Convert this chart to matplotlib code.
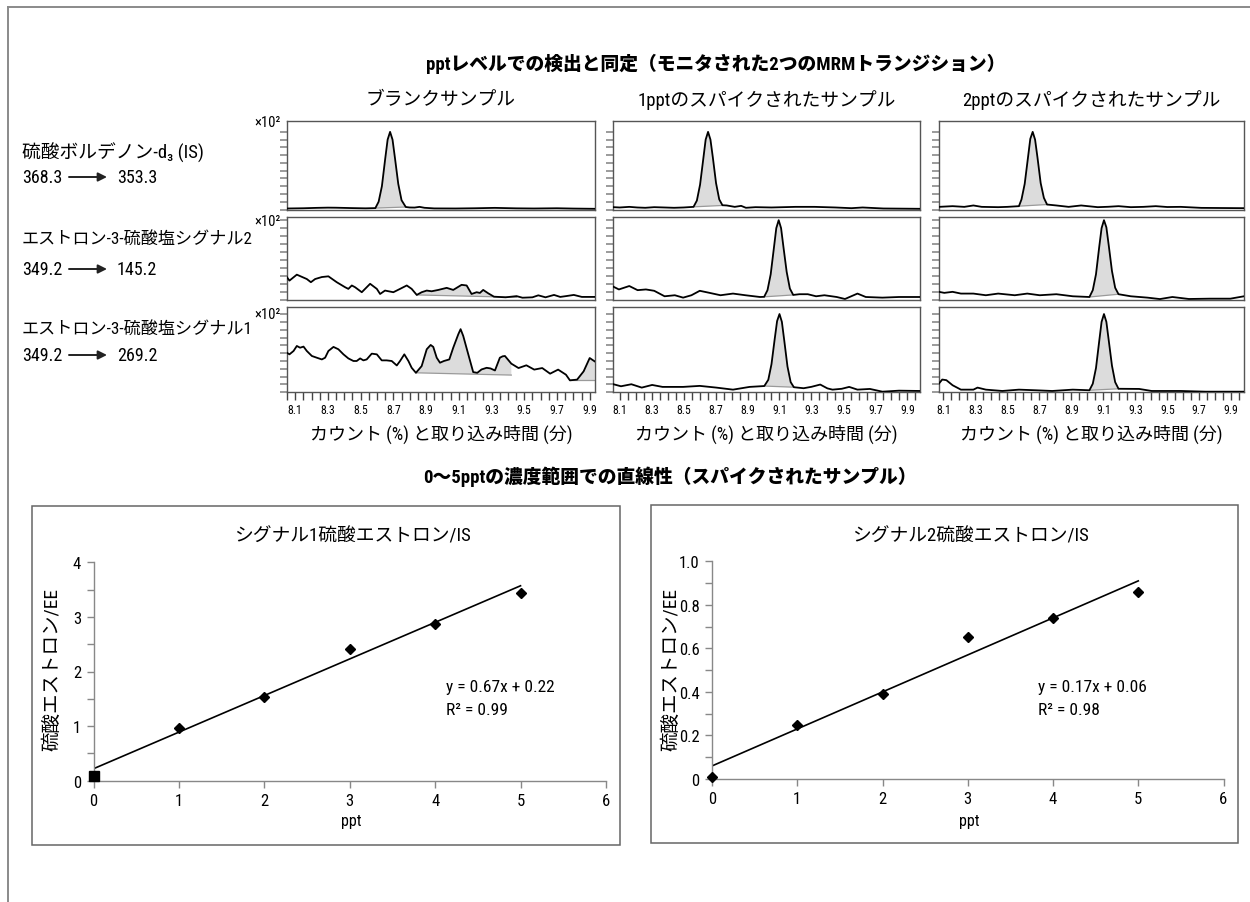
import matplotlib
matplotlib.use('Agg')
import matplotlib.pyplot as plt
from matplotlib import font_manager
from matplotlib.patches import Rectangle, Polygon
from matplotlib.ticker import FixedLocator, MultipleLocator
import numpy as np

W, H = 1250, 903

# pick a narrow latin face if there is one, CJK falls back to Noto
available = {f.name for f in font_manager.fontManager.ttflist}
NARROW = next((n for n in ['Liberation Sans Narrow', 'Roboto Condensed',
                           'Open Sans Condensed', 'Liberation Sans']
               if n in available), 'DejaVu Sans')
MIX = [NARROW, 'Noto Sans CJK JP', 'DejaVu Sans']
plt.rcParams['font.family'] = MIX

# ---------------- data ----------------
main_title = 'pptレベルでの検出と同定（モニタされた2つのMRMトランジション）'
col_titles = ['ブランクサンプル', '1pptのスパイクされたサンプル', '2pptのスパイクされたサンプル']
row_names = ['硫酸ボルデノン-d₃ (IS)', 'エストロン-3-硫酸塩シグナル2', 'エストロン-3-硫酸塩シグナル1']
row_transitions = [('368.3', '353.3'), ('349.2', '145.2'), ('349.2', '269.2')]
chrom_xlabel = 'カウント (%) と取り込み時間 (分)'
time_ticks = [8.1, 8.3, 8.5, 8.7, 8.9, 9.1, 9.3, 9.5, 9.7, 9.9]
time_ranges = [(8.05, 9.93), (8.06, 9.98), (8.07, 9.98)]

# chromatogram traces, (time, counts)
blank_is = [(8.05, 1.3), (8.15, 1.6), (8.23, 2.1), (8.30, 2.4), (8.35, 2.3), (8.45, 1.8),
            (8.53, 1.5), (8.59, 1.8), (8.61, 10), (8.63, 30), (8.65, 65), (8.665, 90),
            (8.68, 100), (8.695, 90), (8.71, 66), (8.73, 33), (8.75, 12), (8.776, 3.2),
            (8.80, 2.6), (8.83, 2.5), (8.86, 3.4), (8.89, 2.2), (8.95, 1.4), (9.08, 1.3),
            (9.20, 1.6), (9.32, 2.1), (9.45, 1.5), (9.56, 1.3), (9.70, 1.6), (9.80, 1.2),
            (9.93, 0.9)]
blank_s2 = [(8.049, 28.5), (8.065, 24), (8.110, 31.5), (8.171, 26), (8.196, 22), (8.222, 26),
            (8.263, 28.5), (8.303, 29.4), (8.354, 22), (8.405, 15.7), (8.425, 13.6),
            (8.446, 17.9), (8.466, 15.7), (8.507, 9.4), (8.558, 20), (8.599, 13.6),
            (8.619, 7.2), (8.649, 11.5), (8.700, 9.4), (8.741, 13.6), (8.782, 17.9),
            (8.812, 13.6), (8.843, 6), (8.873, 9.4), (8.904, 11.5), (8.934, 10.6),
            (8.975, 12.3), (9.026, 14.9), (9.066, 12.3), (9.117, 18.7), (9.148, 17.9),
            (9.178, 7.2), (9.209, 9.4), (9.229, 8.5), (9.249, 12.3), (9.280, 8),
            (9.315, 3.8), (9.386, 3), (9.453, 4.5), (9.489, 2.5), (9.55, 3), (9.586, 5.5),
            (9.63, 3), (9.682, 6), (9.72, 3.5), (9.755, 4.5), (9.803, 6), (9.852, 3.5),
            (9.93, 3.5)]
blank_s1 = [(8.049, 50.6), (8.065, 48.5), (8.090, 52.8), (8.110, 59.2), (8.130, 57),
            (8.151, 58.4), (8.171, 52.8), (8.202, 46.4), (8.232, 44.2), (8.263, 42),
            (8.283, 44.2), (8.303, 52.8), (8.334, 58), (8.364, 55), (8.395, 48.5),
            (8.425, 43.3), (8.456, 40), (8.476, 40), (8.497, 43.3), (8.517, 40.8),
            (8.537, 42), (8.568, 49.4), (8.599, 48.5), (8.629, 40.8), (8.659, 40.8),
            (8.690, 40), (8.721, 34.3), (8.741, 40), (8.767, 48.5), (8.792, 40),
            (8.812, 31.3), (8.838, 24.9), (8.873, 33.5), (8.904, 55), (8.928, 60.5),
            (8.944, 58), (8.965, 44.2), (8.985, 37.8), (9.009, 40), (9.042, 42),
            (9.066, 57), (9.097, 74.2), (9.111, 80.7), (9.127, 72.1), (9.158, 48.5),
            (9.188, 25.8), (9.213, 24.9), (9.239, 29.2), (9.270, 31.3), (9.294, 30.5),
            (9.321, 27.9), (9.351, 44.2), (9.368, 46), (9.382, 46.4), (9.421, 36.6),
            (9.465, 31), (9.513, 34.5), (9.561, 29), (9.610, 31), (9.658, 23.8),
            (9.707, 29), (9.755, 22.5), (9.779, 15.3), (9.823, 16.2), (9.863, 26.8),
            (9.900, 43.8), (9.93, 39.6)]
spike1_is = [(8.061, 3), (8.10, 2.6), (8.16, 3.4), (8.21, 2.6), (8.26, 2.2), (8.316, 3),
             (8.38, 2.6), (8.44, 2.2), (8.50, 2.6), (8.562, 3.4), (8.583, 11.5), (8.603, 32),
             (8.623, 65), (8.638, 90), (8.653, 100), (8.668, 90), (8.683, 67), (8.703, 34),
             (8.723, 13), (8.743, 5.5), (8.77, 5.2), (8.82, 3.4), (8.86, 4.7), (8.89, 2.2),
             (8.95, 3), (9.05, 2.6), (9.2, 3.4), (9.32, 3.4), (9.45, 2.6), (9.55, 1.7),
             (9.62, 2.6), (9.75, 1.3), (9.98, 0.9)]
spike1_s2 = [(8.061, 16.3), (8.095, 12.9), (8.160, 17.2), (8.212, 12), (8.264, 12.9),
             (8.316, 11.2), (8.381, 4.3), (8.445, 5.6), (8.497, 2.6), (8.549, 5.6),
             (8.601, 11.2), (8.653, 9), (8.731, 5.6), (8.809, 7.7), (8.887, 5.6),
             (8.978, 3.4), (9.004, 3.6), (9.025, 12), (9.045, 32), (9.065, 65), (9.080, 90),
             (9.095, 100), (9.110, 90), (9.125, 66), (9.145, 35), (9.165, 14), (9.186, 6),
             (9.225, 6.9), (9.277, 6.9), (9.329, 4.3), (9.381, 5.6), (9.458, 3.4),
             (9.510, 0.9), (9.588, 7.7), (9.640, 3.4), (9.744, 2.6), (9.848, 3.4),
             (9.98, 3.4)]
spike1_s1 = [(8.061, 10.3), (8.108, 7.7), (8.173, 10.3), (8.238, 6), (8.303, 9.4),
             (8.368, 6.9), (8.497, 6.9), (8.601, 8.2), (8.705, 6), (8.809, 3.4),
             (8.913, 6.9), (9.005, 8), (9.030, 16), (9.050, 36), (9.070, 68), (9.085, 91),
             (9.100, 100), (9.115, 90), (9.130, 66), (9.150, 33), (9.170, 13), (9.190, 6.5),
             (9.251, 5.2), (9.300, 7), (9.355, 9.9), (9.400, 5), (9.432, 3.4), (9.490, 4.5),
             (9.536, 6.9), (9.588, 3.4), (9.666, 4.3), (9.744, 0.8), (9.848, 2.1),
             (9.98, 1.7)]
spike2_is = [(8.071, 3.4), (8.157, 4.3), (8.230, 3.4), (8.287, 5.2), (8.339, 3.4),
             (8.442, 3), (8.50, 3.4), (8.572, 4.3), (8.588, 13), (8.608, 33), (8.628, 66),
             (8.643, 91), (8.658, 100), (8.673, 90), (8.688, 67), (8.708, 34), (8.728, 15),
             (8.748, 6.4), (8.806, 5.2), (8.883, 3.4), (8.961, 5.2), (9.065, 3),
             (9.13, 3.5), (9.195, 4.3), (9.272, 3), (9.35, 3.4), (9.428, 4.3), (9.50, 3.2),
             (9.584, 3.4), (9.713, 2.1), (9.98, 1.7)]
spike2_s2 = [(8.071, 9.9), (8.105, 8.6), (8.157, 9.9), (8.209, 7.7), (8.287, 7.7),
             (8.365, 5.6), (8.442, 7.7), (8.546, 5.6), (8.624, 7.7), (8.702, 5.6),
             (8.806, 6.9), (8.909, 4.3), (9.013, 3.4), (9.034, 12), (9.054, 32),
             (9.074, 66), (9.089, 90), (9.104, 100), (9.119, 91), (9.134, 68), (9.154, 36),
             (9.174, 15), (9.195, 6.9), (9.272, 4.3), (9.376, 2.6), (9.454, 0.8),
             (9.532, 3.4), (9.635, 0.9), (9.765, 1.3), (9.895, 1.3), (9.98, 4.3)]
spike2_s1 = [(8.071, 11), (8.092, 16.3), (8.118, 15.5), (8.157, 9), (8.209, 3.4),
             (8.287, 3.4), (8.313, 6), (8.365, 3.4), (8.468, 1.7), (8.572, 3.4),
             (8.676, 2.6), (8.780, 1.7), (8.909, 3.4), (9.013, 2.6), (9.034, 11),
             (9.054, 31), (9.074, 65), (9.089, 90), (9.104, 100), (9.119, 90), (9.134, 66),
             (9.154, 34), (9.174, 13), (9.195, 4.5), (9.324, 4.3), (9.402, 1.7),
             (9.584, 1.7), (9.740, 0.8), (9.895, 0.8), (9.98, 0.8)]

# integrated areas: (start, end, baseline at start, baseline at end)
blank_is_fill = [(8.59, 8.776, 1.8, 3.2)]
blank_s2_fill = [(8.843, 9.453, 6, 3)]
blank_s1_fill = [(8.838, 9.421, 24.9, 22), (9.779, 9.93, 15.3, 15.3)]
spike1_is_fill = [(8.562, 8.743, 3.4, 5.2)]
spike1_s2_fill = [(9.004, 9.186, 3.6, 6)]
spike1_s1_fill = [(9.005, 9.190, 8, 6.5)]
spike2_is_fill = [(8.572, 8.748, 4.3, 6.4)]
spike2_s2_fill = [(9.013, 9.195, 3.4, 6.9)]
spike2_s1_fill = [(9.013, 9.195, 2.6, 4.5)]

# calibration
ppt = [0, 1, 2, 3, 4, 5]
sig1_ratio = [0.08, 0.96, 1.53, 2.42, 2.87, 3.44]
sig2_ratio = [0.01, 0.25, 0.39, 0.65, 0.74, 0.86]
fit1 = (0.67, 0.22, 0.99)
fit2 = (0.17, 0.06, 0.98)
lin_title = '0〜5pptの濃度範囲での直線性（スパイクされたサンプル）'
cal_titles = ['シグナル1硫酸エストロン/IS', 'シグナル2硫酸エストロン/IS']
cal_ylabel = '硫酸エストロン/EE'

# ---------------- layout ----------------
fig = plt.figure(figsize=(W / 100, H / 100), dpi=100)


def px_axes(x0, y0, x1, y1, **kw):
    return fig.add_axes([x0 / W, 1 - y1 / H, (x1 - x0) / W, (y1 - y0) / H], **kw)


ov = px_axes(0, 0, W, H)
ov.set_xlim(0, W)
ov.set_ylim(H, 0)
ov.axis('off')

# page frame
ov.plot([8, 8], [H, 8], color='#8a8a8a', lw=1.4)
ov.plot([8, W], [8, 8], color='#8a8a8a', lw=1.4)

ov.text(716, 64, main_title, ha='center', va='center', fontsize=13.5, weight='heavy')

col_px = [(287, 594.6), (613.3, 920.1), (938.7, 1244)]
row_px = [(122, 210.5), (218, 300.7), (308, 393.3)]
row_top = [114, 104, 109]
x102_y = [123, 221.7, 315]

traces = [[blank_is, spike1_is, spike2_is],
          [blank_s2, spike1_s2, spike2_s2],
          [blank_s1, spike1_s1, spike2_s1]]
fills = [[blank_is_fill, spike1_is_fill, spike2_is_fill],
         [blank_s2_fill, spike1_s2_fill, spike2_s2_fill],
         [blank_s1_fill, spike1_s1_fill, spike2_s1_fill]]

for c, (cx0, cx1) in enumerate(col_px):
    ov.text((cx0 + cx1) / 2, 100, col_titles[c], ha='center', va='center', fontsize=13.5)
    ov.text((cx0 + cx1) / 2, 434, chrom_xlabel, ha='center', va='center', fontsize=13)
    for r, (ry0, ry1) in enumerate(row_px):
        ax = px_axes(cx0, ry0, cx1, ry1)
        t, v = zip(*traces[r][c])
        for f0, f1, b0, b1 in fills[r][c]:
            seg = [(ti, vi) for ti, vi in zip(t, v) if f0 <= ti <= f1]
            ax.add_patch(Polygon(seg + [(f1, b1), (f0, b0)], closed=True,
                                 fc='#dcdcdc', ec='none', zorder=1))
            ax.plot([f0, f1], [b0, b1], color='#9a9a9a', lw=0.9, zorder=2)
        ax.plot(t, v, color='black', lw=1.3, zorder=3)
        ax.set_xlim(*time_ranges[c])
        ax.set_ylim(0, row_top[r])
        ax.set_yticks(np.arange(0, 101, 10))
        ax.tick_params(axis='y', direction='out', length=5, width=1.2,
                       color='#8a8a8a', labelleft=False)
        for s in ax.spines.values():
            s.set_color('#555555')
            s.set_linewidth(1.0)
        if r == 2:
            ax.xaxis.set_major_locator(FixedLocator(time_ticks))
            ax.xaxis.set_minor_locator(MultipleLocator(0.05))
            ax.set_xticklabels([f'{x:.1f}' for x in time_ticks], fontsize=8.5)
            ax.tick_params(axis='x', which='both', direction='out', length=6,
                           width=1.0, color='#444444', pad=2)
        else:
            ax.set_xticks([])
        if c == 0:
            ov.text(281, x102_y[r], '×10²', ha='right', va='center', fontsize=10.5)

# row labels on the left
label_y = [(153, 178), (240, 270), (330, 356)]
label_size = [13.5, 12.3, 12.3]
for r, (ly, ny) in enumerate(label_y):
    ov.text(22, ly, row_names[r], ha='left', va='center', fontsize=label_size[r])
    a, b = row_transitions[r]
    ov.text(22, ny, a, ha='left', va='center', fontsize=13)
    ov.text(117, ny, b, ha='left', va='center', fontsize=13)
    ov.annotate('', xy=(107, ny), xytext=(69, ny),
                arrowprops=dict(arrowstyle='-|>', color='#222222', lw=1.4,
                                mutation_scale=13, shrinkA=0, shrinkB=0))

# ---------------- calibration charts ----------------
ov.text(670, 477, lin_title, ha='center', va='center', fontsize=13.5, weight='heavy')

boxes = [(32, 506.7, 620, 845.7), (651, 505.7, 1237.7, 844.3)]
plot_px = [(93.6, 563.3, 605.9, 781.7), (712, 562.3, 1223.5, 780)]
series = [sig1_ratio, sig2_ratio]
fits = [fit1, fit2]
ylims = [(0, 4), (0, 1.0)]
yticks = [([0, 1, 2, 3, 4], ['0', '1', '2', '3', '4'], 0.5),
          ([0, 0.2, 0.4, 0.6, 0.8, 1.0], ['0', '0.2', '0.4', '0.6', '0.8', '1.0'], 0.1)]
eq_x = [446, 1038]

for k in range(2):
    bx0, by0, bx1, by1 = boxes[k]
    ov.add_patch(Rectangle((bx0, by0), bx1 - bx0, by1 - by0, fill=False,
                           ec='#666666', lw=1.1))
    px0, py0, px1, py1 = plot_px[k]
    ax = px_axes(px0, py0, px1, py1)
    ax.patch.set_alpha(0)
    slope, icpt, r2 = fits[k]
    ax.plot([0, 5], [icpt, slope * 5 + icpt], color='black', lw=1.2, zorder=2)
    if k == 0:
        ax.plot(ppt[1:], series[k][1:], 'D', color='black', ms=4.6, zorder=3,
                clip_on=False)
        ax.plot(ppt[:1], series[k][:1], 's', color='black', ms=6.5, zorder=3,
                clip_on=False)
    else:
        ax.plot(ppt, series[k], 'D', color='black', ms=4.6, zorder=3, clip_on=False)
    ax.set_xlim(0, 6)
    ax.set_ylim(*ylims[k])
    ax.set_xticks(range(7))
    ticks, labels, minor = yticks[k]
    ax.set_yticks(ticks)
    ax.set_yticklabels(labels)
    ax.yaxis.set_minor_locator(MultipleLocator(minor))
    for side in ['top', 'right']:
        ax.spines[side].set_visible(False)
    for side in ['left', 'bottom']:
        ax.spines[side].set_color('#888888')
        ax.spines[side].set_linewidth(1.0)
    ax.tick_params(which='both', direction='out', length=5, width=1.0, color='#888888',
                   labelsize=12, pad=4)
    cx = (px0 + px1) / 2
    ov.text(cx + 3, 537, cal_titles[k], ha='center', va='center', fontsize=13.5)
    ov.text(cx + 2, 822, 'ppt', ha='center', va='center', fontsize=11.5)
    ov.text(bx0 + 20, 670, cal_ylabel, ha='center', va='center', rotation=90,
            fontsize=14)
    ov.text(eq_x[k], 688, f'y = {slope:.2f}x + {icpt:.2f}', ha='left', va='center',
            fontsize=12.5)
    ov.text(eq_x[k], 711, f'R² = {r2:.2f}', ha='left', va='center', fontsize=12.5)

fig.savefig('out.png', dpi=100)
